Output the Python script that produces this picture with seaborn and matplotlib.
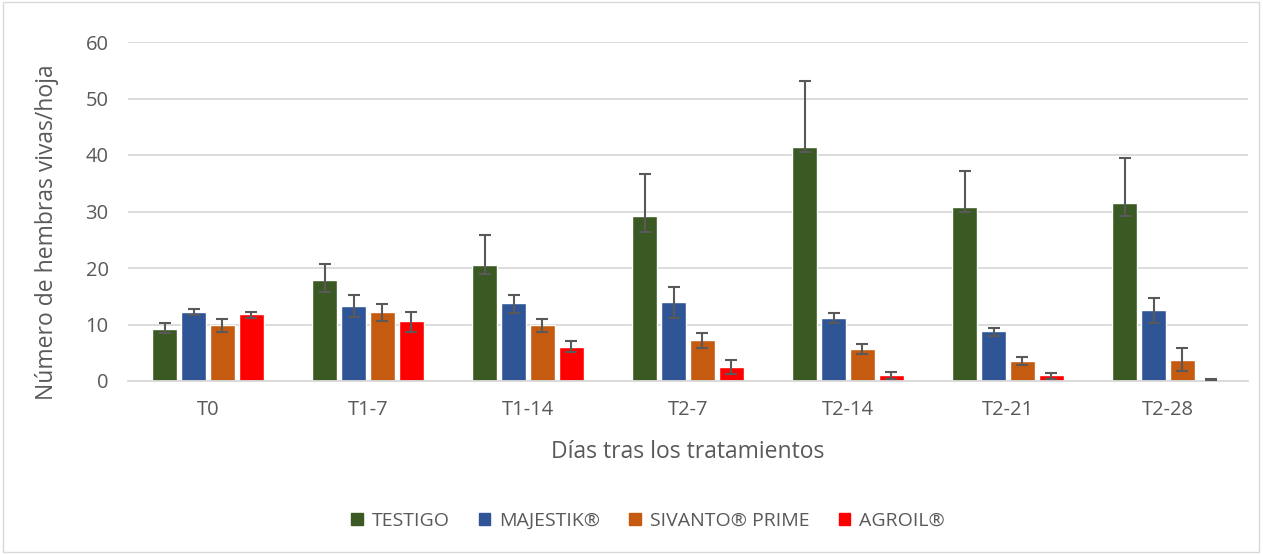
import pandas as pd
import seaborn as sns
import matplotlib.pyplot as plt
import numpy as np
from matplotlib.patches import Rectangle

# data
days = ['T0', 'T1-7', 'T1-14', 'T2-7', 'T2-14', 'T2-21', 'T2-28']
treatments = ['TESTIGO', 'MAJESTIK®', 'SIVANTO® PRIME', 'AGROIL®']
colors = ['#3B5A23', '#2F5597', '#C55A11', '#FF0000']

testigo = [9.2, 17.8, 20.5, 29.2, 41.5, 30.85, 31.5]
majestik = [12.3, 13.3, 13.75, 14.0, 11.2, 8.8, 12.6]
sivanto = [9.97, 12.2, 9.97, 7.26, 5.7, 3.6, 3.8]
agroil = [11.8, 10.55, 6.1, 2.54, 1.0, 1.0, 0.25]

# upper / lower ends of the error bars
testigo_hi = [10.2, 20.7, 25.8, 36.6, 53.1, 37.1, 39.5]
testigo_lo = [8.55, 15.75, 18.9, 26.4, 40.6, 30.0, 29.2]
majestik_hi = [12.7, 15.2, 15.3, 16.7, 12.0, 9.4, 14.7]
majestik_lo = [11.7, 11.4, 12.1, 11.2, 10.25, 8.0, 10.3]
sivanto_hi = [11.0, 13.7, 11.0, 8.5, 6.5, 4.3, 5.8]
sivanto_lo = [8.7, 10.7, 8.7, 5.84, 4.8, 2.8, 1.7]
agroil_hi = [12.2, 12.3, 7.1, 3.7, 1.65, 1.5, 0.35]
agroil_lo = [11.15, 8.7, 5.1, 1.24, 0.3, 0.3, 0.15]

vals = [testigo, majestik, sivanto, agroil]
his = [testigo_hi, majestik_hi, sivanto_hi, agroil_hi]
los = [testigo_lo, majestik_lo, sivanto_lo, agroil_lo]

rows = []
for t, v, h, l in zip(treatments, vals, his, los):
    for d, a, b, c in zip(days, v, h, l):
        rows.append({'dia': d, 'tratamiento': t, 'valor': a, 'hi': b, 'lo': c})
df = pd.DataFrame(rows)

sns.set_theme(style='white')
plt.rcParams['font.family'] = ['Open Sans', 'DejaVu Sans']
txt = '#595959'

fig = plt.figure(figsize=(12.63, 5.54), dpi=100)
ax = fig.add_axes([128 / 1263, 1 - 381 / 554, 1120 / 1263, 339 / 554])

sns.barplot(data=df, x='dia', y='valor', hue='tratamiento', order=days,
            hue_order=treatments, palette=colors, width=0.72, gap=0.14,
            errorbar=None, ax=ax, legend=False, saturation=1)

# custom asymmetric error bars on top of each bar
for cont, t in zip(ax.containers, treatments):
    sub = df[df['tratamiento'] == t].set_index('dia').loc[days]
    xs = [p.get_x() + p.get_width() / 2 for p in cont.patches]
    yerr = np.array([sub['valor'] - sub['lo'], sub['hi'] - sub['valor']])
    ax.errorbar(xs, sub['valor'], yerr=yerr, fmt='none', ecolor=txt,
                elinewidth=1.5, capsize=4.5, capthick=1.5, zorder=5)

ax.set_ylim(0, 60)
ax.set_yticks(range(0, 61, 10))
ax.set_xlim(-0.5, len(days) - 0.5)
ax.yaxis.grid(True, color='#d9d9d9', lw=1.3)
ax.set_axisbelow(True)
for s in ['top', 'right', 'left']:
    ax.spines[s].set_visible(False)
ax.spines['bottom'].set_color('#d9d9d9')
ax.spines['bottom'].set_linewidth(1.3)
ax.tick_params(axis='both', length=0, labelsize=14.5, colors=txt)
ax.tick_params(axis='x', pad=14)
ax.tick_params(axis='y', pad=14)
ax.set_xlabel('Días tras los tratamientos', fontsize=16.5, color=txt, va='center')
ax.set_ylabel('Número de hembras vivas/hoja', fontsize=16.5, color=txt, va='center')
ax.xaxis.set_label_coords(0.5, (381 - 452) / 339)
ax.yaxis.set_label_coords((47 - 128) / 1120, (381 - 232) / 339)

handles = [Rectangle((0, 0), 1, 1, color=c) for c in colors]
fig.legend(handles, treatments, loc='center', bbox_to_anchor=(648 / 1263, 1 - 521 / 554),
           ncol=4, frameon=False, fontsize=14, labelcolor=txt,
           handlelength=0.6, handleheight=0.6, handletextpad=0.45, columnspacing=1.5)

fig.patches.append(Rectangle((0.002, 0.003), 0.995, 0.993, transform=fig.transFigure,
                             fill=False, edgecolor='#d9d9d9', lw=1))

fig.savefig('out.png', dpi=100)
